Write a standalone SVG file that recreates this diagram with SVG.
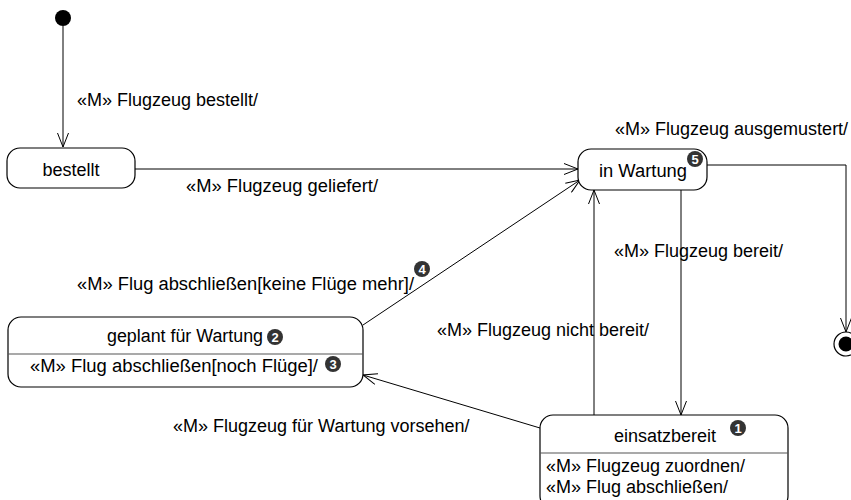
<svg xmlns="http://www.w3.org/2000/svg" width="851" height="500" viewBox="0 0 851 500">
<defs>
<marker id="arr" markerWidth="16" markerHeight="12" refX="15" refY="6" orient="auto" markerUnits="userSpaceOnUse">
<path d="M1,0.5 L15,6 L1,11.5" fill="none" stroke="#000" stroke-width="1"/>
</marker>
</defs>
<style>
text{font-family:"Liberation Sans",Arial,sans-serif;font-size:18px;fill:#000}
.st{fill:#fff;stroke:#000;stroke-width:1.2}
.dv{stroke:#555;stroke-width:1.2}
.ln{fill:none;stroke:#000;stroke-width:1;marker-end:url(#arr)}
.bd{fill:#333}
.bn{font-size:13px;font-weight:bold;fill:#fff;text-anchor:middle}
.c{text-anchor:middle}
</style>
<rect width="851" height="500" fill="#fff"/>
<g id="connectors">
<path class="ln" d="M63,26 L63,147"/>
<path class="ln" d="M135,169 L578,169"/>
<path class="ln" d="M707,165 L846,165 L846,332"/>
<path class="ln" d="M681,190 L681,415"/>
<path class="ln" d="M594,415 L594,190"/>
<path class="ln" d="M363,325 L580,180"/>
<path class="ln" d="M540,428 L363,375"/>
<text x="77" y="106">«M» Flugzeug bestellt/</text>
<text x="186" y="192" textLength="192" lengthAdjust="spacingAndGlyphs">«M» Flugzeug geliefert/</text>
<text x="615" y="135">«M» Flugzeug ausgemustert/</text>
<text x="614" y="257">«M» Flugzeug bereit/</text>
<text x="77" y="290" textLength="337" lengthAdjust="spacingAndGlyphs">«M» Flug abschließen[keine Flüge mehr]/</text>
<text x="437" y="336">«M» Flugzeug nicht bereit/</text>
<text x="173" y="432">«M» Flugzeug für Wartung vorsehen/</text>
<circle class="bd" cx="422" cy="269" r="8"/>
<text class="bn" x="422" y="273.5">4</text>
</g>
<g id="initial">
<circle cx="63" cy="18" r="8" fill="#000"/>
</g>
<g id="final">
<circle cx="846" cy="344" r="12" fill="#fff" stroke="#000" stroke-width="1.2"/>
<circle cx="846" cy="344" r="7.5" fill="#000"/>
</g>
<g id="bestellt">
<rect class="st" x="7" y="148" width="128" height="40" rx="13"/>
<text class="c" x="71" y="176">bestellt</text>
</g>
<g id="inWartung">
<rect class="st" x="578" y="149" width="129" height="41" rx="13"/>
<text x="599" y="177" textLength="88" lengthAdjust="spacingAndGlyphs">in Wartung</text>
<circle class="bd" cx="695" cy="159" r="8"/>
<text class="bn" x="695" y="163.5">5</text>
</g>
<g id="geplant">
<rect class="st" x="8" y="317" width="355" height="70" rx="13"/>
<line class="dv" x1="8" y1="354" x2="363" y2="354"/>
<text x="107" y="342" textLength="156" lengthAdjust="spacingAndGlyphs">geplant für Wartung</text>
<circle class="bd" cx="275" cy="337" r="8"/>
<text class="bn" x="275" y="341.5">2</text>
<text x="30" y="372" textLength="288" lengthAdjust="spacingAndGlyphs">«M» Flug abschließen[noch Flüge]/</text>
<circle class="bd" cx="333" cy="364" r="8"/>
<text class="bn" x="333" y="368.5">3</text>
</g>
<g id="einsatzbereit">
<rect class="st" x="540" y="415" width="248" height="94" rx="13"/>
<line class="dv" x1="540" y1="453" x2="788" y2="453"/>
<text class="c" x="665" y="442">einsatzbereit</text>
<circle class="bd" cx="738" cy="428" r="8"/>
<text class="bn" x="738" y="432.5">1</text>
<text x="546" y="472">«M» Flugzeug zuordnen/</text>
<text x="546" y="493">«M» Flug abschließen/</text>
</g>
</svg>
